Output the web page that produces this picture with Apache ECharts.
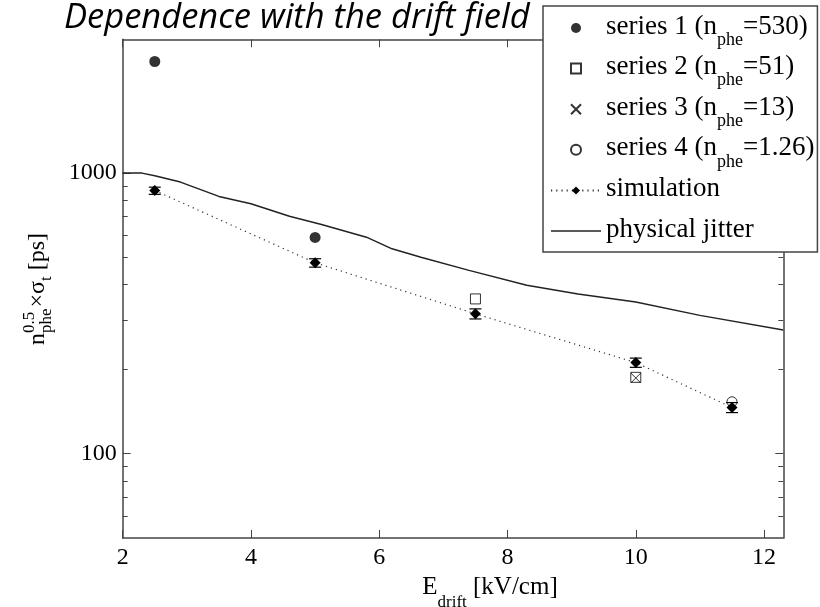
<!DOCTYPE html>
<html>
<head>
<meta charset="utf-8">
<script src="https://cdn.jsdelivr.net/npm/echarts@6/dist/echarts.min.js"></script>
<style>
  html, body { margin: 0; padding: 0; background: #fff; }
  #chart { width: 820px; height: 607px; }
</style>
</head>
<body>
<div id="chart"></div>
<script>
// Drift field [kV/cm] and sqrt(n_phe) * sigma_t [ps] for each data set
const series1X = [2.5, 5];
const series1Y = [2500, 590];
const series2X = [7.5, 10];
const series2Y = [356, 187];
const series3X = [10];
const series3Y = [186];
const series4X = [11.5];
const series4Y = [153];

const simX = [2.5, 5, 7.5, 10, 11.5];
const simY = [867, 479, 315, 211, 146];
const simLow = [840, 462, 302, 203, 140];
const simHigh = [891, 495, 328, 219, 152];

const jitterX = [2, 2.3, 2.5, 2.9, 3.5, 4, 4.6, 5.1, 5.8, 6.2, 6.65, 7.4, 8.3, 9.1, 10, 11, 12.3];
const jitterY = [1000, 1000, 978, 929, 826, 778, 702, 656, 591, 537, 501, 450, 398, 371, 347, 311, 276];

const xTickValues = [2, 4, 6, 8, 10, 12];
const yMajorTicks = [100, 1000];
const yMinorTicks = [60, 70, 80, 90, 200, 300, 400, 500, 600, 700, 800, 900];

const legendNames = ['series 1', 'series 2', 'series 3', 'series 4', 'simulation', 'physical jitter'];
const legendCounts = ['530', '51', '13', '1.26'];

const SERIF = "'Liberation Serif', 'Times New Roman', serif";
const AXIS_COLOR = '#444';
const SQUARE = 'path://M0,0L10,0L10,10L0,10Z';
const CROSS = 'path://M0,0L10,10M10,0L0,10';
const HLINE = 'path://M0,0L50,0L50,1.5L0,1.5Z';

const pairs = (xs, ys) => xs.map((x, i) => [x, ys[i]]);

// Rotated y-axis title with stacked super/subscripts
function buildYName() {
  const ctx = document.createElement('canvas').getContext('2d');
  const big = 24, small = 17;
  const w = (t, s) => { ctx.font = s + 'px ' + SERIF; return ctx.measureText(t).width; };
  const pieces = [];
  let x = 0;
  pieces.push({ text: 'n', x: x, dy: 0, size: big });
  x += w('n', big);
  pieces.push({ text: '0.5', x: x, dy: -8, size: small });
  pieces.push({ text: 'phe', x: x, dy: 9, size: small });
  x += Math.max(w('0.5', small), w('phe', small)) + 1;
  pieces.push({ text: '\u00d7', x: x, dy: 0, size: big });
  x += w('\u00d7', big);
  pieces.push({ text: '\u03c3', x: x, dy: 0, size: big });
  x += w('\u03c3', big);
  pieces.push({ text: 't', x: x, dy: 9, size: small });
  x += w('t', small);
  pieces.push({ text: ' [ps]', x: x, dy: 0, size: big });
  x += w(' [ps]', big);
  const total = x;
  return {
    type: 'group',
    x: 38,
    y: 289,
    rotation: Math.PI / 2,
    children: pieces.map(p => ({
      type: 'text',
      x: p.x - total / 2,
      y: p.dy,
      style: {
        text: p.text, fontFamily: SERIF, fontSize: p.size, fill: '#000',
        align: 'left', verticalAlign: 'middle'
      }
    }))
  };
}

const legendRich = {
  t: { fontFamily: SERIF, fontSize: 27, color: '#000', lineHeight: 34, verticalAlign: 'top', padding: [2, 0, 0, 0] },
  s: { fontFamily: SERIF, fontSize: 18, color: '#000', lineHeight: 10, verticalAlign: 'bottom', padding: [0, 0, -4, 0] }
};

function legendLabel(name) {
  const i = legendNames.indexOf(name);
  if (i < 4) return '{t|' + name + ' (n}{s|phe}{t|=' + legendCounts[i] + ')}';
  return '{t|' + name + '}{s| }';
}

const chart = echarts.init(document.getElementById('chart'), null, { renderer: 'canvas' });

const xCommon = {
  type: 'value', min: 2, max: 12.3, interval: 2,
  axisLine: { show: true, onZero: false, lineStyle: { color: AXIS_COLOR, width: 1.5 } },
  axisTick: { show: true, inside: true, length: 8, lineStyle: { color: AXIS_COLOR, width: 1 }, customValues: xTickValues },
  splitLine: { show: false }
};

const yCommon = {
  type: 'log', logBase: 10, min: 50, max: 3000,
  splitLine: { show: false }
};

const option = {
  animation: false,
  backgroundColor: '#fff',
  title: {
    text: 'Dependence with the drift field',
    left: 64, top: 1, padding: 0,
    textStyle: { fontFamily: "'Open Sans'", fontStyle: 'italic', fontWeight: 'normal', fontSize: 34.5, color: '#000' }
  },
  grid: { left: 122.7, right: 36.7, top: 39.3, bottom: 69, containLabel: false, outerBoundsMode: 'none' },
  xAxis: [
    Object.assign({}, xCommon, {
      position: 'bottom',
      axisLabel: { show: true, fontFamily: SERIF, fontSize: 24, color: '#000', margin: 8, customValues: xTickValues },
      name: '{t|E}{s|drift}{t| [kV/cm]}',
      nameLocation: 'middle',
      nameGap: 27,
      nameTextStyle: {
        padding: [0, 0, 0, 74],
        rich: {
          t: { fontFamily: SERIF, fontSize: 25, color: '#000', lineHeight: 34, verticalAlign: 'top' },
          s: { fontFamily: SERIF, fontSize: 17, color: '#000', lineHeight: 10, verticalAlign: 'bottom', padding: [0, 0, -2, 0] }
        }
      }
    }),
    Object.assign({}, xCommon, { position: 'top', axisLabel: { show: false } })
  ],
  yAxis: [
    Object.assign({}, yCommon, {
      position: 'left',
      axisLine: { show: true, lineStyle: { color: AXIS_COLOR, width: 1.5 } },
      axisTick: { show: true, inside: true, length: 8, lineStyle: { color: AXIS_COLOR }, customValues: yMajorTicks },
      axisLabel: {
        show: true, fontFamily: SERIF, fontSize: 24, color: '#000', margin: 6,
        customValues: yMajorTicks, formatter: v => String(Math.round(v))
      }
    }),
    Object.assign({}, yCommon, {
      position: 'left',
      axisLine: { show: false },
      axisTick: { show: true, inside: true, length: 5, lineStyle: { color: AXIS_COLOR }, customValues: yMinorTicks },
      axisLabel: { show: false }
    }),
    Object.assign({}, yCommon, {
      position: 'right',
      axisLine: { show: true, lineStyle: { color: AXIS_COLOR, width: 1.5 } },
      axisTick: { show: true, inside: true, length: 8, lineStyle: { color: AXIS_COLOR }, customValues: yMajorTicks },
      axisLabel: { show: false }
    }),
    Object.assign({}, yCommon, {
      position: 'right',
      axisLine: { show: false },
      axisTick: { show: true, inside: true, length: 5, lineStyle: { color: AXIS_COLOR }, customValues: yMinorTicks },
      axisLabel: { show: false }
    })
  ],
  legend: {
    orient: 'vertical',
    left: 543, top: 6,
    padding: [5, 3, 0, 7],
    itemWidth: 50, itemHeight: 10, itemGap: 2.6,
    selectedMode: false,
    backgroundColor: '#fff',
    borderColor: AXIS_COLOR, borderWidth: 1.5,
    z: 10,
    data: [
      { name: 'series 1' },
      { name: 'series 2', icon: SQUARE },
      { name: 'series 3', icon: CROSS },
      { name: 'series 4' },
      { name: 'simulation' },
      { name: 'physical jitter', icon: HLINE }
    ],
    formatter: legendLabel,
    textStyle: { fontFamily: SERIF, fontSize: 27, color: '#000', rich: legendRich }
  },
  graphic: [buildYName()],
  series: [
    {
      name: 'physical jitter', type: 'line', data: pairs(jitterX, jitterY),
      symbol: 'none', smooth: false,
      lineStyle: { color: '#222', width: 1.5, type: 'solid' },
      itemStyle: { color: '#222' }, z: 2
    },
    {
      name: 'simulation', type: 'line', data: pairs(simX, simY),
      symbol: 'diamond', symbolSize: 11, showSymbol: true,
      lineStyle: { color: '#333', width: 1.2, type: [1.2, 4] },
      itemStyle: { color: '#000' }, z: 4
    },
    {
      name: 'simulation error', type: 'custom',
      data: simX.map((x, i) => [x, simLow[i], simHigh[i]]),
      encode: { x: 0, y: [1, 2] },
      renderItem: function (params, api) {
        const x = api.value(0);
        const lo = api.coord([x, api.value(1)]);
        const hi = api.coord([x, api.value(2)]);
        const half = 6;
        const st = { stroke: '#000', lineWidth: 1.2 };
        return {
          type: 'group',
          children: [
            { type: 'line', shape: { x1: lo[0], y1: lo[1], x2: hi[0], y2: hi[1] }, style: st },
            { type: 'line', shape: { x1: lo[0] - half, y1: lo[1], x2: lo[0] + half, y2: lo[1] }, style: st },
            { type: 'line', shape: { x1: hi[0] - half, y1: hi[1], x2: hi[0] + half, y2: hi[1] }, style: st }
          ]
        };
      },
      z: 5
    },
    {
      name: 'series 1', type: 'scatter', data: pairs(series1X, series1Y),
      symbol: 'circle', symbolSize: 11,
      itemStyle: { color: '#000' }, z: 6
    },
    {
      name: 'series 2', type: 'scatter', data: pairs(series2X, series2Y),
      symbol: SQUARE, symbolSize: 10,
      itemStyle: { color: 'rgba(255,255,255,0)', borderColor: '#000', borderWidth: 1 }, z: 6
    },
    {
      name: 'series 3', type: 'scatter', data: pairs(series3X, series3Y),
      symbol: CROSS, symbolSize: 10,
      itemStyle: { color: 'rgba(255,255,255,0)', borderColor: '#000', borderWidth: 1 }, z: 6
    },
    {
      name: 'series 4', type: 'scatter', data: pairs(series4X, series4Y),
      symbol: 'circle', symbolSize: 10,
      itemStyle: { color: 'rgba(255,255,255,0)', borderColor: '#000', borderWidth: 1 }, z: 6
    }
  ]
};

chart.setOption(option);
</script>
</body>
</html>
